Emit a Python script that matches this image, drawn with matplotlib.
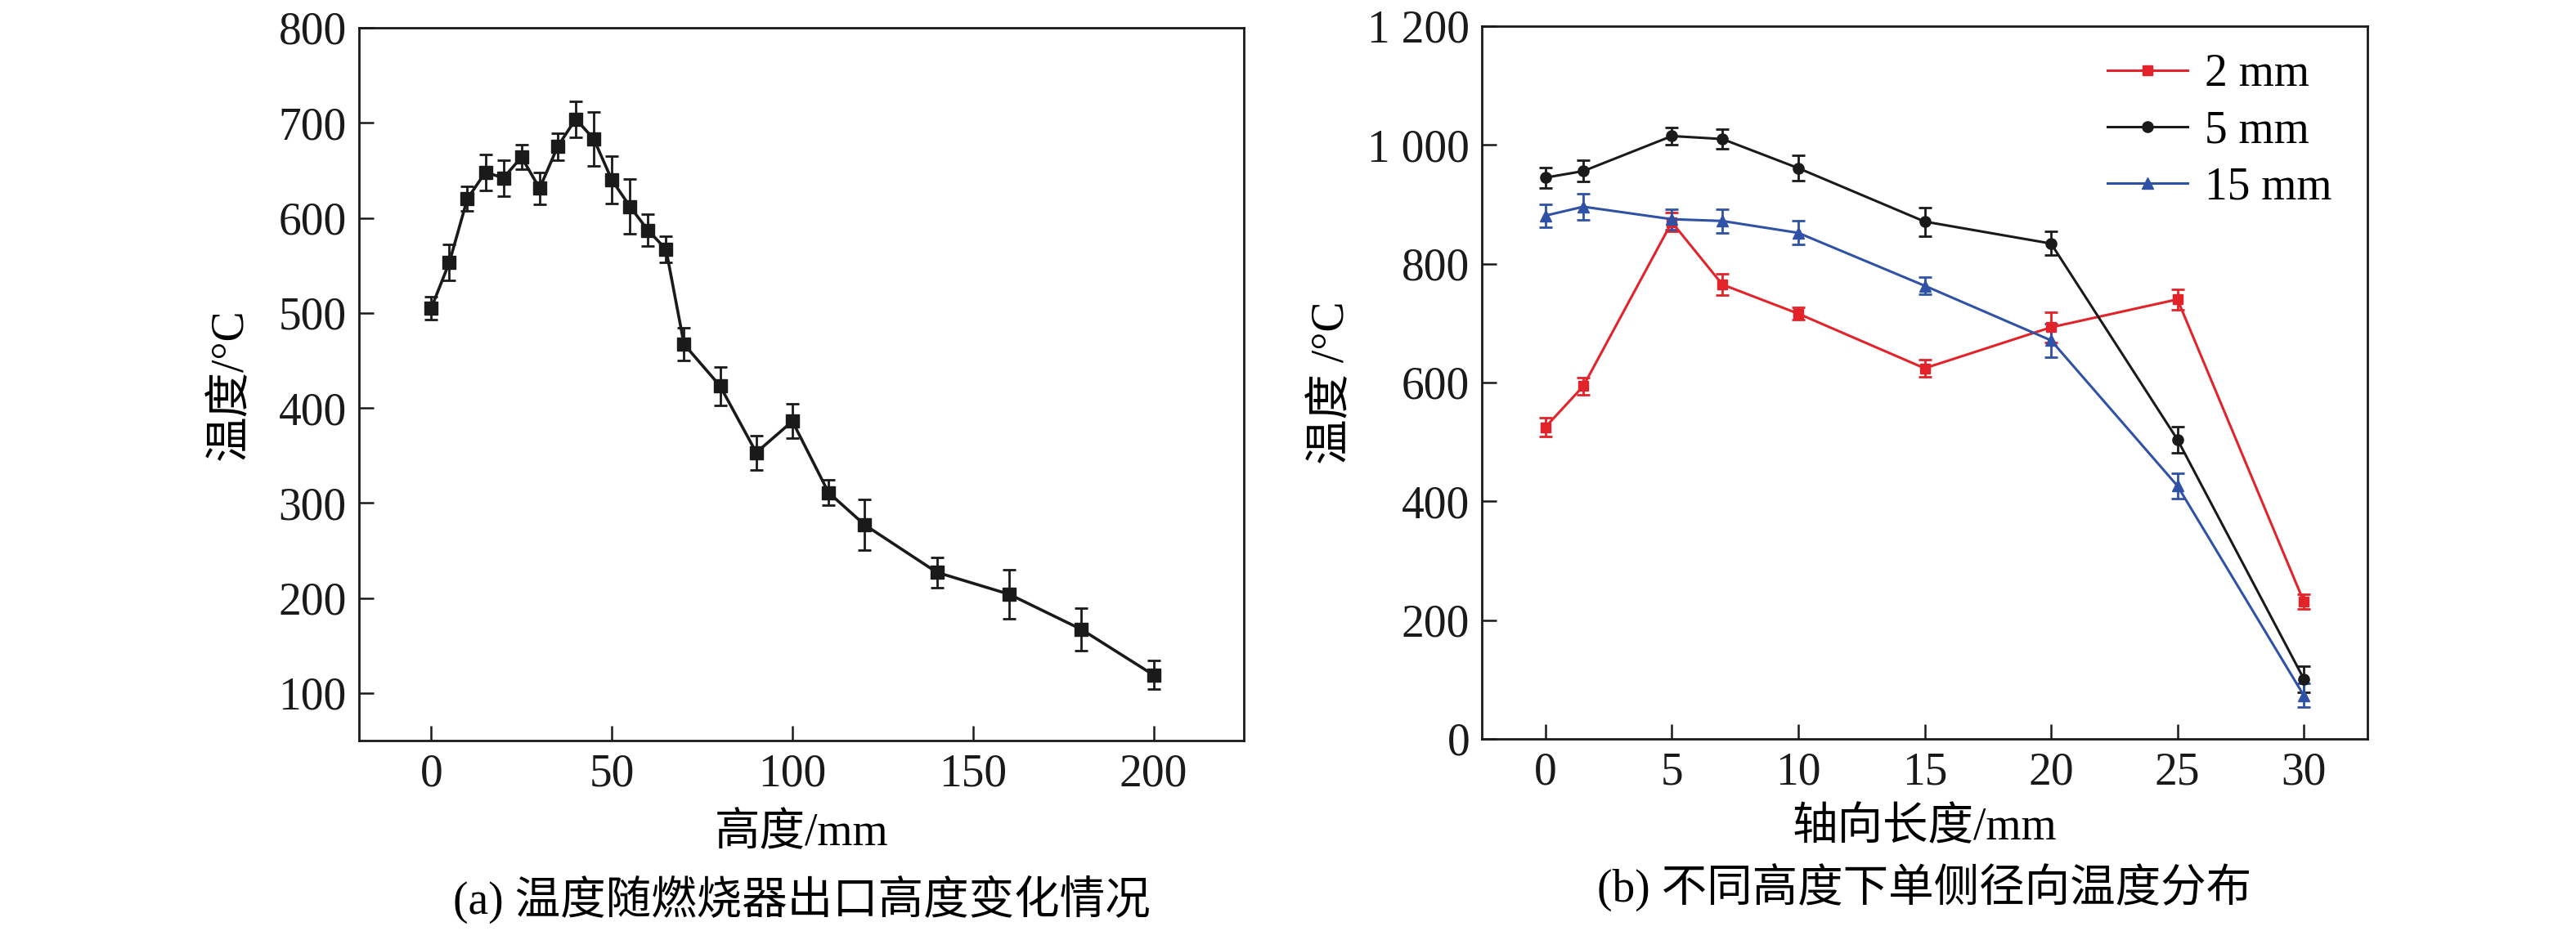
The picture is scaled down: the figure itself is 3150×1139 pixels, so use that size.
import matplotlib
matplotlib.use("Agg")
import matplotlib.pyplot as plt

plt.rcParams['font.family'] = ['Liberation Serif', 'Noto Sans CJK SC', 'DejaVu Sans']
plt.rcParams['axes.unicode_minus'] = False

# ---------------- data: panel (a) ----------------
height_mm = [0, 5, 10, 15, 20, 25, 30, 35, 40, 45, 50, 55, 60, 65, 70, 80, 90, 100,
             110, 120, 140, 160, 180, 200]
temp_a = [505, 553, 620, 648, 642, 664, 631, 675, 704, 683, 640, 612, 587, 567, 467,
          423, 353, 386, 311, 277, 227, 204, 167, 119]
err_a = [12, 19, 13, 19, 19, 13, 17, 14, 19, 28, 25, 29, 17, 14, 17,
         20, 18, 18, 13, 27, 16, 26, 22, 15]

# ---------------- data: panel (b) ----------------
axial_mm = [0, 1.5, 5, 7, 10, 15, 20, 25, 30]
temp_2mm = [525, 594, 870, 765, 716, 624, 693, 740, 231]
err_2mm = [16, 14, 16, 18, 10, 15, 26, 17, 12]
temp_5mm = [945, 956, 1015, 1010, 961, 871, 834, 504, 101]
err_5mm = [17, 18, 14, 16, 21, 24, 20, 22, 22]
temp_15mm = [881, 896, 875, 872, 852, 763, 671, 426, 73]
err_15mm = [19, 22, 17, 20, 20, 14, 28, 21, 20]
series_labels = ['2 mm', '5 mm', '15 mm']

yticks_a = [100, 200, 300, 400, 500, 600, 700, 800]
xticks_a = [0, 50, 100, 150, 200]
yticks_b = [0, 200, 400, 600, 800, 1000, 1200]
yticklabels_b = ['0', '200', '400', '600', '800', '1 000', '1 200']
xticks_b = [0, 5, 10, 15, 20, 25, 30]

FS = 40
FS_CJK = 40
W, H = 3150, 1139
fig = plt.figure(figsize=(W / 100, H / 100), dpi=100)

ax1 = fig.add_axes([439 / W, 1 - 906 / H, 1082 / W, 872 / H])
ax2 = fig.add_axes([1812.5 / W, 1 - 904 / H, 1082 / W, 872 / H])

for ax in (ax1, ax2):
    for s in ax.spines.values():
        s.set_linewidth(2.0)
        s.set_color('#1a1a1a')
    ax.tick_params(direction='in', length=13, width=1.8, colors='#1a1a1a',
                   labelsize=FS, pad=11, top=False, right=False)

# panel (a)
ax1.errorbar(height_mm, temp_a, yerr=err_a, fmt='-s', color='#1a1a1a', lw=2.6,
             ms=11, elinewidth=2.0, capsize=5.5, capthick=2.0)
ax1.set_xlim(-20, 225)
ax1.set_ylim(50, 800)
ax1.set_xticks(xticks_a)
ax1.set_yticks(yticks_a)
ax1.set_ylabel('温度/°C', fontsize=FS_CJK)
ax1.yaxis.set_label_coords(-0.145, 0.5)
ax1.yaxis.label.set_va('center')

# panel (b)
colors = ['#e3232a', '#1a1a1a', '#2f52a6']
markers = ['s', 'o', '^']
msizes = [8.5, 9.5, 10.5]
for yv, ev, c, m, ms, lab in zip([temp_2mm, temp_5mm, temp_15mm],
                                 [err_2mm, err_5mm, err_15mm],
                                 colors, markers, msizes, series_labels):
    ax2.errorbar(axial_mm, yv, yerr=ev, fmt='-' + m, color=c, lw=2.2, ms=ms,
                 elinewidth=2.0, capsize=6, capthick=2.0, label=lab)
ax2.set_xlim(-2.5, 32.5)
ax2.set_ylim(0, 1200)
ax2.set_xticks(xticks_b)
ax2.set_yticks(yticks_b)
ax2.set_yticklabels(yticklabels_b)
ax2.set_ylabel('温度 /°C', fontsize=FS_CJK)
ax2.yaxis.set_label_coords(-0.169, 0.5)
ax2.yaxis.label.set_va('center')

handles, labels = ax2.get_legend_handles_labels()
handles = [h[0] for h in handles]
leg = ax2.legend(handles, labels, loc='upper left', bbox_to_anchor=(0.707, 0.962),
                 frameon=False, fontsize=FS, handlelength=1.76, handletextpad=0.38,
                 labelspacing=0.31, borderpad=0, borderaxespad=0)

# x labels and captions
fig.text(980 / W, 1 - 1020 / H, '高度/mm', ha='center', va='center', fontsize=FS_CJK)
fig.text(980 / W, 1 - 1100 / H, '(a) 温度随燃烧器出口高度变化情况', ha='center', va='center', fontsize=FS_CJK)
fig.text(2353 / W, 1 - 1013 / H, '轴向长度/mm', ha='center', va='center', fontsize=FS_CJK)
fig.text(2353 / W, 1 - 1086 / H, '(b) 不同高度下单侧径向温度分布', ha='center', va='center', fontsize=FS_CJK)

fig.savefig('out.png', dpi=100, facecolor='white')
